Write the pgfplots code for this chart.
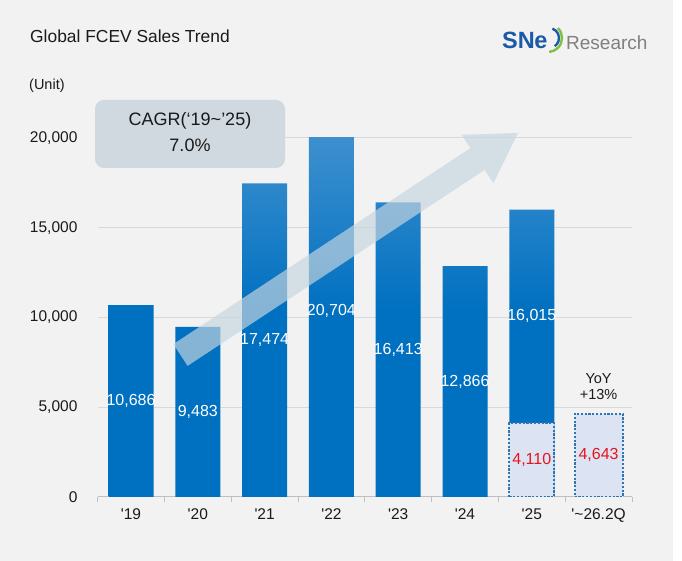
\documentclass[border=0pt]{standalone}
\usepackage{fontspec}
\setmainfont{Liberation Sans}
\usepackage{pgfplots}
\pgfplotsset{compat=1.18}
\definecolor{bg}{HTML}{F2F2F2}
\definecolor{barTop}{HTML}{4292D0}
\definecolor{barDark}{HTML}{0070C0}
\definecolor{gridc}{HTML}{D9D9D9}
\definecolor{axisc}{HTML}{BFBFBF}
\definecolor{boxFill}{HTML}{DCE4F4}
\definecolor{boxLine}{HTML}{2E75B6}
\definecolor{redv}{HTML}{E8141C}
\definecolor{arrowc}{RGB}{198,213,224}
\definecolor{cagrc}{HTML}{CFD9DF}
\definecolor{txt}{HTML}{1A1A1A}
\definecolor{logoBlue}{HTML}{1B5AA7}
\definecolor{logoGreen}{HTML}{7DC242}
\definecolor{logoGray}{HTML}{808080}
\newcommand\fs[2]{\fontsize{#1bp}{#2bp}\selectfont}
\begin{document}
\begin{tikzpicture}[x=1bp,y=1bp]
\useasboundingbox (0,0) rectangle (682,561);
\fill[white] (0,0) rectangle (682,561);
\fill[bg] (0,0) rectangle (673,561);
\begin{axis}[
  at={(97.6bp,64bp)}, anchor=south west,
  scale only axis, width=534.4bp, height=359bp,
  xmin=-0.5, xmax=7.5, ymin=0, ymax=20000,
  axis x line*=bottom, axis y line*=left,
  y axis line style={draw=none},
  x axis line style={draw=axisc, line width=1bp},
  ytick={0,5000,10000,15000,20000},
  ymajorgrids, grid style={draw=gridc, line width=1bp},
  major y tick style={draw=none},
  xtick={0,...,7},
  xticklabels={\textquotesingle19,\textquotesingle20,\textquotesingle21,\textquotesingle22,\textquotesingle23,\textquotesingle24,\textquotesingle25,\textquotesingle\textasciitilde26.2Q},
  major x tick style={draw=none},
  minor xtick={-0.5,0.5,...,7.5},
  minor x tick style={draw=axisc, line width=1bp},
  minor tick length=5bp,
  major tick length=0pt,
  tick align=outside,
  scaled y ticks=false,
  /pgf/number format/assume math mode=true,
  yticklabel style={/pgf/number format/1000 sep={,}, font=\fs{15.5}{18}, text=txt, anchor=east, inner sep=0pt, xshift=-20bp},
  xticklabel style={font=\fs{15.5}{18}, text=txt, anchor=base, inner sep=0pt, yshift=-23bp},
]
\addplot[ybar, bar width=45bp, bar shift=0pt, draw=none, top color=barTop, bottom color=barDark, middle color=barDark]
  coordinates {(0,10686)(1,9483)(2,17474)(3,20704)(4,16413)(5,12866)(6,16015)};
\addplot[ybar, bar width=45bp, bar shift=0pt, fill=boxFill, draw=boxLine, line width=2.2bp, dash pattern=on 2.2bp off 1.6bp]
  coordinates {(6,4110)};
\addplot[ybar, bar width=48bp, bar shift=0pt, fill=boxFill, draw=boxLine, line width=2.2bp, dash pattern=on 2.2bp off 1.6bp]
  coordinates {(7,4643)};
\addplot[draw=none, mark=none, nodes near coords, point meta=explicit symbolic,
  nodes near coords align={center},
  every node near coord/.append style={text=white, font=\fs{16}{18}, inner sep=0pt}]
  table[meta=lab] {
x y lab
0 5343 10,686
1 4742 9,483
2 8737 17,474
3 10352 20,704
4 8207 16,413
5 6433 12,866
6 10062 16,015
};
\addplot[draw=none, mark=none, nodes near coords, point meta=explicit symbolic,
  nodes near coords align={center},
  every node near coord/.append style={text=redv, font=\fs{16}{18}, inner sep=0pt}]
  table[meta=lab] {
x y lab
6 2055 4,110
7 2322 4,643
};
\end{axis}
% growth arrow
\fill[arrowc, opacity=0.68] (173.4,216.9) -- (470.4,412.9) -- (461.6,426.2) -- (518,428) -- (493.4,377.8) -- (484.6,391.1) -- (187.6,195.1) -- cycle;
% CAGR box
\fill[cagrc, rounded corners=9bp] (95,393) rectangle (285,461);
\node[anchor=center, inner sep=0pt, text=txt, font=\fs{18}{20}] at (190,440) {CAGR(‘19\textasciitilde’25)};
\node[anchor=center, inner sep=0pt, text=txt, font=\fs{18}{20}] at (190,416) {7.0\%};
% YoY
\node[anchor=center, inner sep=0pt, text=txt, font=\fs{14.5}{16}] at (598.6,182) {YoY};
\node[anchor=center, inner sep=0pt, text=txt, font=\fs{14.5}{16}] at (598.6,166) {+13\%};
% title and unit
\node[anchor=base west, inner sep=0pt, text=txt, font=\fs{17.4}{20}] at (30,518) {Global FCEV Sales Trend};
\node[anchor=base west, inner sep=0pt, text=txt, font=\fs{14.5}{16}] at (29,471) {(Unit)};
% logo
\node[anchor=base west, inner sep=0pt, text=logoBlue, font=\bfseries\fs{23.5}{26}] at (502,512) {SN\kern-0.5bp e};
\draw[logoBlue, line width=2.4bp] (549,523) ++(70:10) arc (70:-55:10);
\draw[logoGreen, line width=2.4bp] (548,523) ++(45:14) arc (45:-85:14);
\node[anchor=base west, inner sep=0pt, text=logoGray, font=\fs{19}{22}] at (566,511) {Research};
\end{tikzpicture}
\end{document}
